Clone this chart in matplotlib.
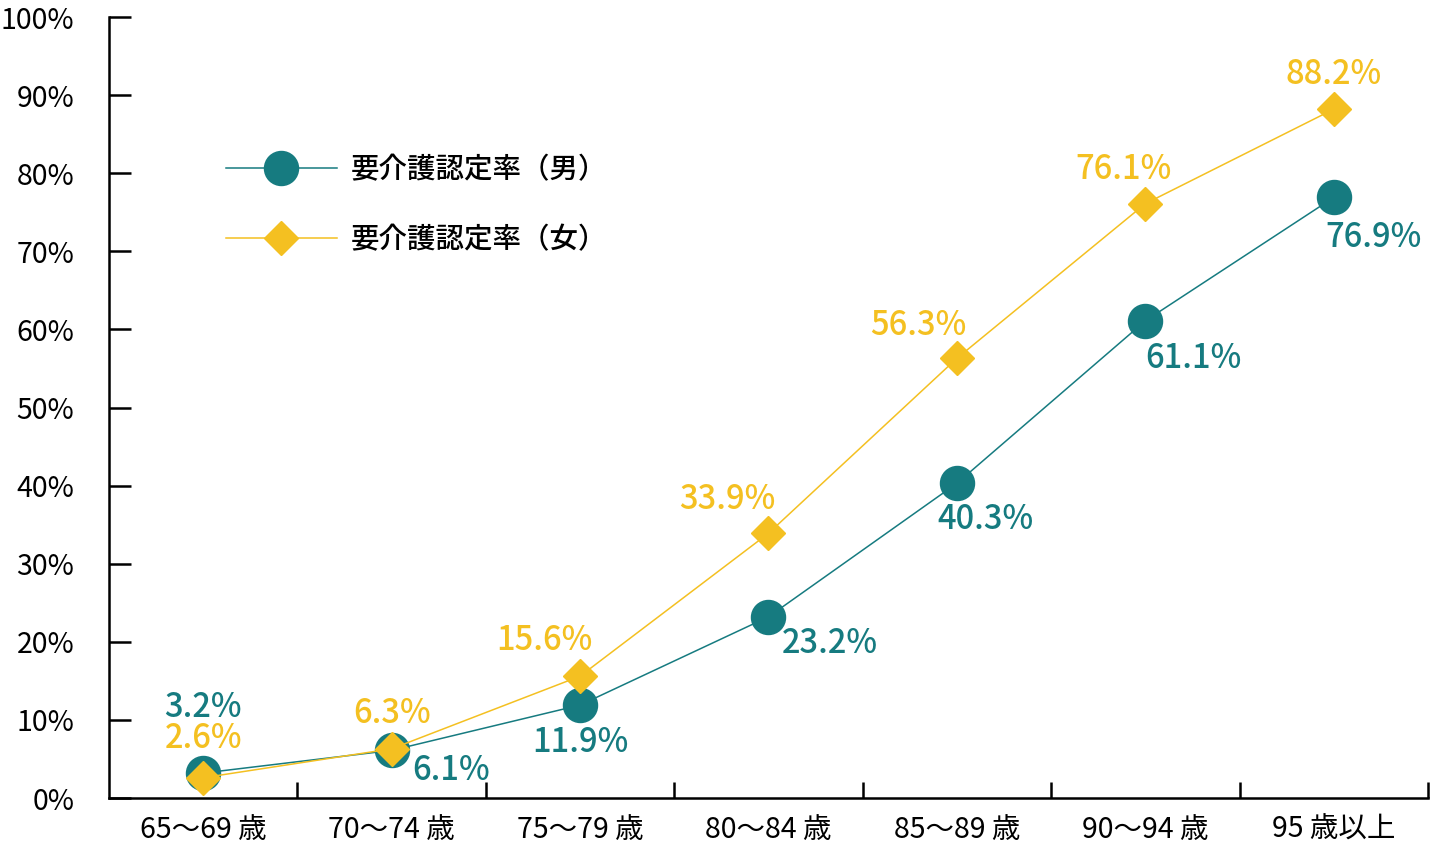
import matplotlib
matplotlib.use("Agg")
import matplotlib.pyplot as plt
from matplotlib.ticker import FixedLocator

plt.rcParams['font.family'] = ['Noto Sans CJK JP', 'DejaVu Sans']

categorias = ['65〜69 歳', '70〜74 歳', '75〜79 歳', '80〜84 歳', '85〜89 歳', '90〜94 歳', '95 歳以上']
tasa_hombres = [3.2, 6.1, 11.9, 23.2, 40.3, 61.1, 76.9]
tasa_mujeres = [2.6, 6.3, 15.6, 33.9, 56.3, 76.1, 88.2]
etiquetas = ['要介護認定率（男）', '要介護認定率（女）']

color_h = '#167b80'
color_m = '#f4c021'

# offsets (pixels) de las etiquetas de datos
off_h = [(0, 66), (59, -20), (0, -37), (61, -27), (29, -36), (48, -38), (40, -40)]
off_m = [(0, 39), (0, 35), (-36, 36), (-41, 34), (-39, 33), (-22, 34), (0, 35)]

fig = plt.figure(figsize=(14.32, 8.68), dpi=100)
ax = fig.add_axes([0.0761, 0.0806, 0.9211, 0.8998])

x = range(len(categorias))
ax.plot(x, tasa_hombres, color=color_h, lw=1.1, marker='o', ms=24.5,
        label=etiquetas[0], zorder=3)
ax.plot(x, tasa_mujeres, color=color_m, lw=1.1, marker='D', ms=17.3,
        label=etiquetas[1], zorder=4)

for i, v in enumerate(tasa_hombres):
    ax.annotate(f'{v:.1f}%', (i, v), xytext=off_h[i], textcoords='offset pixels',
                ha='center', va='center', color=color_h, fontsize=23.5,
                fontweight='medium', zorder=5)
for i, v in enumerate(tasa_mujeres):
    ax.annotate(f'{v:.1f}%', (i, v), xytext=off_m[i], textcoords='offset pixels',
                ha='center', va='center', color=color_m, fontsize=23.5,
                fontweight='medium', zorder=5)

ax.set_xlim(-0.5, len(categorias) - 0.5)
ax.set_ylim(0, 100)
ax.set_yticks(range(0, 101, 10))
ax.set_yticklabels([f'{t}%' for t in range(0, 101, 10)])
ax.set_xticks(list(x))
ax.set_xticklabels(categorias)
ax.xaxis.set_minor_locator(FixedLocator([i + 0.5 for i in x]))

ax.tick_params(axis='y', direction='in', length=16, width=1.8, labelsize=20.5, pad=25)
ax.tick_params(axis='x', which='major', length=0, labelsize=20.5, pad=12)
ax.tick_params(axis='x', which='minor', direction='in', length=11.5, width=1.8)

for s in ['top', 'right']:
    ax.spines[s].set_visible(False)
for s in ['left', 'bottom']:
    ax.spines[s].set_linewidth(1.8)
ax.spines['left'].set_bounds(0, 100)

leg = ax.legend(loc='upper left', bbox_to_anchor=(0.069, 0.856), frameon=False,
                prop={'size': 20.5, 'weight': 'medium'},
                handlelength=3.9, labelspacing=1.45, handletextpad=0.5)

fig.savefig('out.png', dpi=100)
